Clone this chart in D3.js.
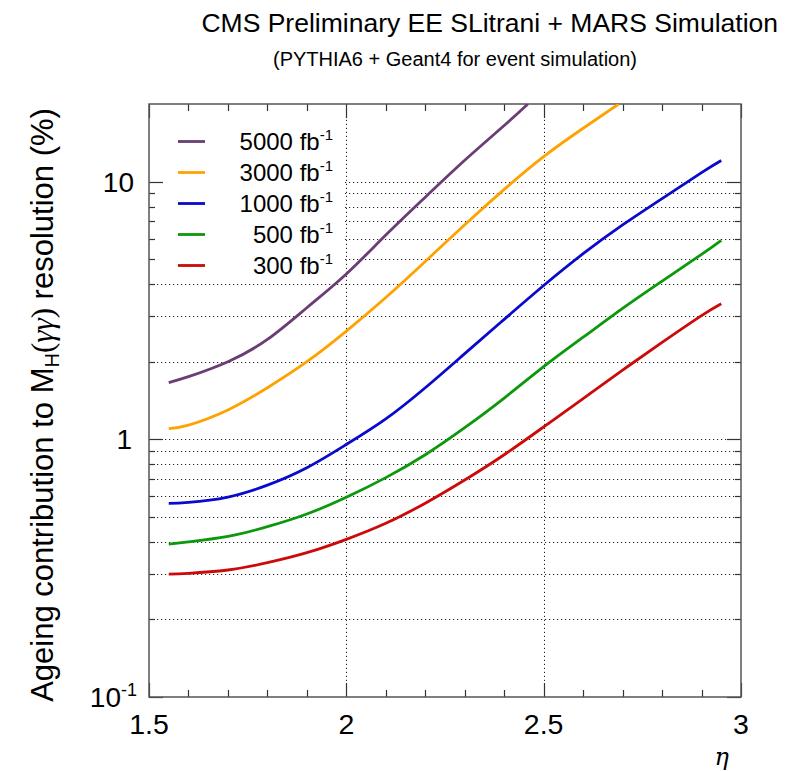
<!DOCTYPE html>
<html lang="en">
<head>
<meta charset="UTF-8">
<title>EE ageing</title>
<script src="https://d3js.org/d3.v7.min.js"></script>
<style>
  html, body { margin: 0; padding: 0; background: #fff; }
  svg { display: block; font-family: "Liberation Sans", Arial, sans-serif; }
  .grid line { stroke: #222; stroke-width: 1; stroke-dasharray: 1.2 2.8; }
  .frame { fill: none; stroke: #555; stroke-width: 1.5; }
  .tick { stroke: #333; stroke-width: 1.2; }
</style>
</head>
<body>
<div id="chart"></div>
<script>
// values
var etaFull = [1.55, 1.6, 1.7, 1.8, 1.9, 2.0, 2.1, 2.2, 2.3, 2.4, 2.5, 2.6, 2.7, 2.8, 2.9, 2.95];
var eta5000 = [1.55, 1.6, 1.7, 1.8, 1.9, 2.0, 2.1, 2.2, 2.3, 2.4, 2.46];
var res5000 = [1.66, 1.75, 2.0, 2.44, 3.24, 4.38, 6.2, 8.7, 12.1, 16.5, 20.0];
var eta3000 = [1.55, 1.6, 1.7, 1.8, 1.9, 2.0, 2.1, 2.2, 2.3, 2.4, 2.5, 2.6, 2.69];
var res3000 = [1.10, 1.135, 1.30, 1.585, 2.0, 2.63, 3.55, 4.9, 6.8, 9.33, 12.5, 16.1, 20.0];
var res1000 = [0.564, 0.569, 0.597, 0.664, 0.776, 0.955, 1.20, 1.585, 2.15, 2.92, 3.95, 5.25, 6.79, 8.59, 10.84, 12.08];
var res500  = [0.392, 0.400, 0.420, 0.458, 0.513, 0.596, 0.710, 0.871, 1.109, 1.445, 1.914, 2.489, 3.221, 4.11, 5.22, 5.92];
var res300  = [0.300, 0.302, 0.311, 0.332, 0.363, 0.409, 0.472, 0.565, 0.695, 0.871, 1.117, 1.439, 1.854, 2.377, 3.02, 3.357];

var lumis  = ["5000", "3000", "1000", "500", "300"];
var colors = ["#6a3d74", "#ffa200", "#0a0acc", "#0b980b", "#cc0a0a"];
var seriesEta = [eta5000, eta3000, etaFull, etaFull, etaFull];
var seriesRes = [res5000, res3000, res1000, res500, res300];

var xMajor = [1.5, 2, 2.5, 3];
var xMinor = d3.range(15, 31).map(function(d) { return d / 10; });
var yMajor = [0.1, 1, 10];
var yMinor = [0.2, 0.3, 0.4, 0.5, 0.6, 0.7, 0.8, 0.9, 2, 3, 4, 5, 6, 7, 8, 9];

var width = 798, height = 771;
var svg = d3.select("#chart").append("svg")
    .attr("width", width)
    .attr("height", height);

var x = d3.scaleLinear().domain([1.5, 3]).range([149, 741]);
var y = d3.scaleLog().domain([0.1, 20]).range([697, 104]);

svg.append("defs").append("clipPath").attr("id", "plot")
  .append("rect")
    .attr("x", x(1.5)).attr("y", y(20))
    .attr("width", x(3) - x(1.5)).attr("height", y(0.1) - y(20));

// dotted grid
var grid = svg.append("g").attr("class", "grid");
grid.selectAll("line.h")
    .data(yMinor.concat([1, 10]))
  .enter().append("line")
    .attr("class", "h")
    .attr("x1", x(1.5)).attr("x2", x(3))
    .attr("y1", function(d) { return Math.round(y(d)) + 0.5; })
    .attr("y2", function(d) { return Math.round(y(d)) + 0.5; });
grid.selectAll("line.v")
    .data([2, 2.5])
  .enter().append("line")
    .attr("class", "v")
    .attr("y1", y(0.1)).attr("y2", y(20))
    .attr("x1", function(d) { return Math.round(x(d)) + 0.5; })
    .attr("x2", function(d) { return Math.round(x(d)) + 0.5; });

// legend box hides the grid behind it
svg.append("rect")
    .attr("x", x(1.5) + 1).attr("y", y(20) + 2)
    .attr("width", 193).attr("height", 170)
    .style("fill", "#fff");

// ticks, all pointing inward
var ticks = svg.append("g");
function vTicks(vals, len) {
  vals.forEach(function(d) {
    var xx = Math.round(x(d)) + 0.5;
    ticks.append("line").attr("class", "tick")
      .attr("x1", xx).attr("x2", xx).attr("y1", y(0.1)).attr("y2", y(0.1) - len);
    ticks.append("line").attr("class", "tick")
      .attr("x1", xx).attr("x2", xx).attr("y1", y(20)).attr("y2", y(20) + len);
  });
}
function hTicks(vals, len) {
  vals.forEach(function(d) {
    var yy = Math.round(y(d)) + 0.5;
    ticks.append("line").attr("class", "tick")
      .attr("y1", yy).attr("y2", yy).attr("x1", x(1.5)).attr("x2", x(1.5) + len);
    ticks.append("line").attr("class", "tick")
      .attr("y1", yy).attr("y2", yy).attr("x1", x(3)).attr("x2", x(3) - len);
  });
}
vTicks(xMinor.filter(function(d) { return xMajor.indexOf(d) < 0; }), 7);
vTicks(xMajor, 14);
hTicks(yMinor, 6);
hTicks(yMajor, 14);

// frame
svg.append("rect").attr("class", "frame")
    .attr("x", x(1.5)).attr("y", y(20))
    .attr("width", x(3) - x(1.5)).attr("height", y(0.1) - y(20));

// curves
var line = d3.line()
    .x(function(d) { return x(d[0]); })
    .y(function(d) { return y(d[1]); })
    .curve(d3.curveNatural);

var curves = svg.append("g").attr("clip-path", "url(#plot)");
lumis.forEach(function(l, i) {
  var pts = seriesEta[i].map(function(e, j) { return [e, seriesRes[i][j]]; });
  curves.append("path")
    .attr("d", line(pts))
    .style("fill", "none")
    .style("stroke", colors[i])
    .style("stroke-width", 2.8);
});

// legend
var legend = svg.append("g");
lumis.forEach(function(l, i) {
  var ly = 141.5 + i * 31;
  legend.append("line")
    .attr("x1", 178).attr("x2", 205).attr("y1", ly).attr("y2", ly)
    .style("stroke", colors[i]).style("stroke-width", 2.8);
  var t = legend.append("text")
    .attr("x", 333).attr("y", ly + 8)
    .attr("text-anchor", "end")
    .style("font-size", "24px")
    .text(l + " fb");
  t.append("tspan").attr("dy", -10).style("font-size", "15px").text("-1");
});

// x tick labels
svg.selectAll("text.xl")
    .data(xMajor)
  .enter().append("text")
    .attr("class", "xl")
    .attr("x", function(d) { return x(d); })
    .attr("y", 734)
    .attr("text-anchor", "middle")
    .style("font-size", "28.5px")
    .text(function(d) { return d; });

// y tick labels
var yl = svg.append("g").style("font-size", "28px").attr("text-anchor", "end");
yl.append("text").attr("x", 134).attr("y", y(10) + 10).text("10");
yl.append("text").attr("x", 132).attr("y", y(1) + 10).text("1");
var t01 = yl.append("text").attr("x", 137).attr("y", y(0.1) + 10);
t01.append("tspan").text("10");
t01.append("tspan").attr("dy", -11).style("font-size", "18px").text("-1");

// axis titles
svg.append("text")
    .attr("x", 729).attr("y", 765)
    .attr("text-anchor", "end")
    .style("font-family", "'DejaVu Serif', 'Liberation Serif', serif")
    .style("font-style", "italic")
    .style("font-size", "24px")
    .text("η");

var yt = svg.append("text")
    .attr("transform", "translate(53,405) rotate(-90)")
    .attr("text-anchor", "middle")
    .style("font-size", "31px");
yt.append("tspan").text("Ageing contribution to M");
yt.append("tspan").attr("dy", 6).style("font-size", "20px").text("H");
yt.append("tspan").attr("dy", -6).style("font-family", "'Liberation Serif', serif").text("(");
yt.append("tspan").style("font-family", "'Liberation Serif', serif").style("font-style", "italic").text("γγ");
yt.append("tspan").style("font-family", "'Liberation Serif', serif").text(")");
yt.append("tspan").text(" resolution (%)");

// titles
svg.append("text")
    .attr("x", 778).attr("y", 32)
    .attr("text-anchor", "end")
    .style("font-size", "26.5px")
    .text("CMS Preliminary EE SLitrani + MARS Simulation");
svg.append("text")
    .attr("x", 455).attr("y", 66)
    .attr("text-anchor", "middle")
    .style("font-size", "20px")
    .text("(PYTHIA6 + Geant4 for event simulation)");
</script>
</body>
</html>
